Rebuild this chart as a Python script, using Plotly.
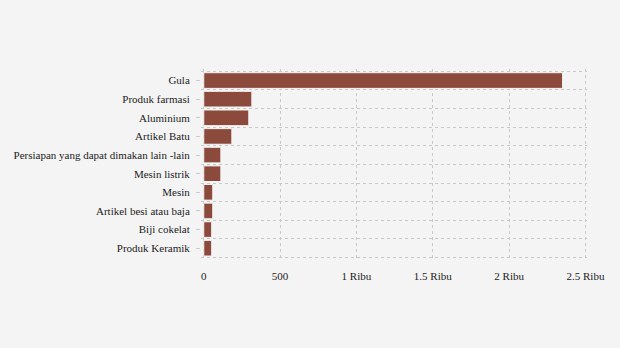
import plotly.graph_objects as go

categories = ["Gula", "Produk farmasi", "Aluminium", "Artikel Batu",
              "Persiapan yang dapat dimakan lain -lain", "Mesin listrik", "Mesin",
              "Artikel besi atau baja", "Biji cokelat", "Produk Keramik"]
values = [2350, 315, 295, 184, 112, 112, 59, 59, 52, 52]
x_tickvals = [0, 500, 1000, 1500, 2000, 2500]
x_ticktext = ["0", "500", "1 Ribu", "1.5 Ribu", "2 Ribu", "2.5 Ribu"]

ypos = list(range(len(categories)))
grid_col = "#c9c9c9"
bg = "#f4f4f4"

fig = go.Figure(go.Bar(
    x=values, y=ypos, orientation="h",
    marker=dict(color="#8B4A3C", line=dict(color=bg, width=1)),
    hoverinfo="x+text", text=categories, textposition="none",
))

fig.update_layout(
    width=620, height=348,
    margin=dict(l=201, r=33, t=69, b=89),
    paper_bgcolor=bg, plot_bgcolor=bg,
    font=dict(family="Liberation Serif, Times New Roman, serif", size=11, color="#222"),
    bargap=0.16,
    showlegend=False,
)
fig.update_xaxes(
    range=[-18, 2510], tickvals=x_tickvals, ticktext=x_ticktext,
    showgrid=True, gridcolor=grid_col, griddash="dot", gridwidth=1.2,
    zeroline=False, showline=False, ticks="", ticklabelstandoff=9,
)
fig.update_yaxes(
    range=[len(categories) - 0.42, -0.62],
    tickvals=ypos, ticktext=categories,
    showgrid=False, zeroline=False, showline=False,
    ticks="outside", ticklen=4, tickcolor=grid_col, tickwidth=1,
    ticklabelstandoff=4,
    minor=dict(tickvals=[i - 0.5 for i in range(len(categories) + 1)],
               showgrid=True, gridcolor=grid_col, griddash="dot", gridwidth=1.2, ticks=""),
)
fig.write_html("out.html")
